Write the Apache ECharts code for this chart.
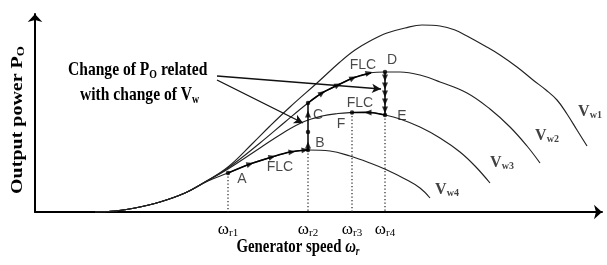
<!DOCTYPE html>
<html><head><meta charset="utf-8">
<script src="https://cdn.jsdelivr.net/npm/echarts@6/dist/echarts.min.js"></script>
<style>html,body{margin:0;padding:0;background:#fff}#c{width:607px;height:265px}</style>
</head><body><div id="c"></div>
<script>
// Power curves P_O(ω_r) for four wind speeds (schematic units)
const vw1 = [[95,0],[115,1],[135,4],[160,10],[185,19],[205,30],[228,45],[253,69],[270,86],[290,105],[317,129],[340,150],[355,162],[370,171],[387,179],[405,184],[422,187],[440,186],[455,182],[467,176],[485,166],[500,157],[517,145],[533,132],[546,122],[557,112],[567,98],[577,82],[587,66]];
const vw2 = [[95,0],[115,1],[135,4],[160,10],[185,19],[205,30],[228,44],[260,69],[285,90],[308,109],[322,119],[338,127],[353,134],[370,139],[385,140],[400,140],[420,137],[440,130],[467,119],[490,103],[510,85],[527,66],[540,49]];
const vw3 = [[95,0],[115,1],[135,4],[160,10],[185,19],[205,30],[228,43],[260,64],[283,79],[303,90],[322,96],[338,98.5],[352,99.5],[368,100],[385,97],[400,93],[420,85],[440,74],[460,60],[475,46],[490,29]];
const vw4 = [[95,0],[115,1],[135,4],[160,10],[185,19],[208,31],[228,39],[250,48],[272,55],[290,60],[308,62],[330,61],[350,56],[370,49],[387,42],[405,33],[420,24],[430,14]];
const curveSubs = ['w1','w2','w3','w4'];

// FLC trajectory A -> B -> C -> D -> E -> F
const trajAB = [[228,39],[250,48],[272,55],[290,60],[308,62]];
const trajBC = [[308,62],[308,109]];
const trajCD = [[308,109],[322,119],[338,127],[353,134],[371,139]];
const trajDE = [[385,140],[385,97]];
const trajEF = [[385,97],[368,99.5],[352,99.5]];
const arrowsAB = [[250,48],[272,55],[292,60],[305,62]];
const arrowsBC = [[308,67],[308,98]];
const arrowsCD = [[322,119],[338,127],[353,134],[369,139]];
const arrowsDE = [[385,134],[385,126],[385,118],[385,110],[385,102]];
const arrowsEF = [[368,99.5]];
const statePoints = [[228,39],[308,62],[308,109],[385,140],[385,97],[352,99.5],[308,80]];
const dropLines = [[228,39],[308,62],[352,99.5],[385,97]];

// text
const tickValues = [228,308,352,385];
const tickSubs = ['r1','r2','r3','r4'];
const pointLabels = [[242,33,'A'],[280,45,'FLC'],[320,69,'B'],[318,97,'C'],[341,88,'F'],[360,109,'FLC'],[363,147,'FLC'],[392,152,'D'],[402,96,'E']];
const curveLabels = [[590,100,0],[547,76,1],[502,49,2],[447,22,3]];
const noteArrows = [[[217,136],[381,123]],[[217,132],[303,89]]];

const SERIF = 'Liberation Serif';
const SANS = 'Liberation Sans';

function dirAt(traj, p) {
  let best = null, bd = Infinity;
  for (let i = 0; i < traj.length - 1; i++) {
    const a = traj[i], b = traj[i+1];
    const mx = (a[0]+b[0])/2, my = (a[1]+b[1])/2;
    const minx = Math.min(a[0],b[0])-0.5, maxx = Math.max(a[0],b[0])+0.5;
    const miny = Math.min(a[1],b[1])-0.5, maxy = Math.max(a[1],b[1])+0.5;
    let d = Math.hypot(p[0]-mx, p[1]-my);
    if (p[0]>=minx && p[0]<=maxx && p[1]>=miny && p[1]<=maxy) d -= 1000;
    if (d < bd) { bd = d; best = [a,b]; }
  }
  const ang = Math.atan2(best[1][1]-best[0][1], best[1][0]-best[0][0]) * 180 / Math.PI;
  return ang - 90;
}

function curve(data) {
  return { type:'line', data, smooth:0.4, showSymbol:false, symbol:'none', silent:true,
    lineStyle:{ color:'#222', width:1.15 }, z:2 };
}
function traj(data) {
  return { type:'line', data, smooth:0.3, showSymbol:false, symbol:'none', silent:true,
    lineStyle:{ color:'#000', width:1.5 }, z:4 };
}
function arrows(list, t) {
  return { type:'scatter', silent:true, z:6, symbol:'triangle', symbolSize:[6,7],
    itemStyle:{ color:'#000' },
    data: list.map(p => ({ value:p, symbolRotate: dirAt(t, p) })) };
}

const rich = {
  b: { fontFamily:SERIF, fontWeight:'bold', fontSize:19, color:'#000' },
  s: { fontFamily:SERIF, fontWeight:'bold', fontSize:12, color:'#000', padding:[9,0,0,0] },
  i: { fontFamily:SERIF, fontWeight:'bold', fontStyle:'italic', fontSize:19, color:'#000' },
  si:{ fontFamily:SERIF, fontWeight:'bold', fontStyle:'italic', fontSize:12, color:'#000', padding:[9,0,0,0] }
};
const richY = {
  b: { fontFamily:SERIF, fontWeight:'bold', fontSize:20, color:'#000' },
  s: { fontFamily:SERIF, fontWeight:'bold', fontSize:13, color:'#000', padding:[9,0,0,0] }
};

const series = [
  curve(vw1), curve(vw2), curve(vw3), curve(vw4),
  traj(trajAB), traj(trajBC), traj(trajCD), traj(trajDE), traj(trajEF),
  arrows(arrowsAB, trajAB), arrows(arrowsBC, trajBC), arrows(arrowsCD, trajCD),
  arrows(arrowsDE, trajDE), arrows(arrowsEF, trajEF),
  { type:'scatter', silent:true, z:7, symbol:'circle', symbolSize:4.5, itemStyle:{color:'#000'}, data: statePoints },
  { type:'scatter', silent:true, z:8, symbolSize:0, data: pointLabels.map(p => ({ value:[p[0],p[1]], name:p[2] })),
    label:{ show:true, position:'inside', formatter: p => p.name, fontFamily:SANS, fontSize:14, color:'#1a1a1a' } },
  { type:'scatter', silent:true, z:8, symbolSize:0, data: curveLabels.map(p => ({ value:[p[0],p[1]], name:curveSubs[p[2]] })),
    label:{ show:true, position:'inside', formatter: p => '{v|V}{s|' + p.name + '}',
      rich:{ v:{ fontFamily:SERIF, fontWeight:'bold', fontSize:16, color:'#111' },
             s:{ fontFamily:SERIF, fontWeight:'bold', fontSize:10, color:'#111', padding:[7,0,0,0] } } } },
  { type:'line', silent:true, data:[], z:5,
    markLine:{ silent:true, symbol:['none','arrow'], symbolSize:[7,9], label:{show:false},
      lineStyle:{ color:'#111', width:1.3, type:'solid' },
      data: noteArrows.map(s => [{ coord:s[0] }, { coord:s[1] }]) } }
];
dropLines.forEach(p => series.push({ type:'line', silent:true, symbol:'none', z:1,
  data:[[p[0],p[1]],[p[0],0]], lineStyle:{ color:'#333', width:1.3, type:[1.3,2.2] } }));

const chart = echarts.init(document.getElementById('c'), null, { renderer:'canvas' });
chart.setOption({
  animation:false,
  backgroundColor:'#fff',
  grid:{ left:35, right:5, top:14, bottom:53, containLabel:false, outerBoundsMode:'none' },
  xAxis:{ type:'value', min:35, max:602,
    axisLine:{ show:true, onZero:false, symbol:['none','arrow'], symbolSize:[11,8], lineStyle:{ color:'#000', width:2 } },
    axisTick:{ show:false }, splitLine:{ show:false },
    axisLabel:{ show:true, customValues: tickValues, margin:9,
      formatter: v => '{w|ω}{s|' + tickSubs[tickValues.indexOf(v)] + '}',
      rich:{ w:{ fontFamily:SERIF, fontSize:17, color:'#000' },
             s:{ fontFamily:SERIF, fontSize:11, color:'#000', padding:[7,0,0,0] } } } },
  yAxis:{ type:'value', min:0, max:198,
    axisLine:{ show:true, onZero:false, symbol:['none','arrow'], symbolSize:[11,8], lineStyle:{ color:'#000', width:2 } },
    axisTick:{ show:false }, splitLine:{ show:false }, axisLabel:{ show:false } },
  graphic:[
    { type:'text', x:68, y:70, scaleX:0.82, silent:true,
      style:{ text:'{b|Change of P}{s|O}{b| related}', rich, align:'left', verticalAlign:'middle', textAlign:'left', textVerticalAlign:'middle' } },
    { type:'text', x:80, y:95, scaleX:0.82, silent:true,
      style:{ text:'{b|with change of V}{s|w}', rich, align:'left', verticalAlign:'middle', textAlign:'left', textVerticalAlign:'middle' } },
    { type:'text', x:298, y:247, scaleX:0.78, silent:true,
      style:{ text:'{b|Generator speed }{i|ω}{si|r}', rich, align:'center', verticalAlign:'middle', textAlign:'center', textVerticalAlign:'middle' } },
    { type:'text', x:18, y:120, rotation:Math.PI/2, scaleY:0.8, silent:true,
      style:{ text:'{b|Output power P}{s|O}', rich: richY, align:'center', verticalAlign:'middle', textAlign:'center', textVerticalAlign:'middle' } }
  ],
  series
});
</script></body></html>
